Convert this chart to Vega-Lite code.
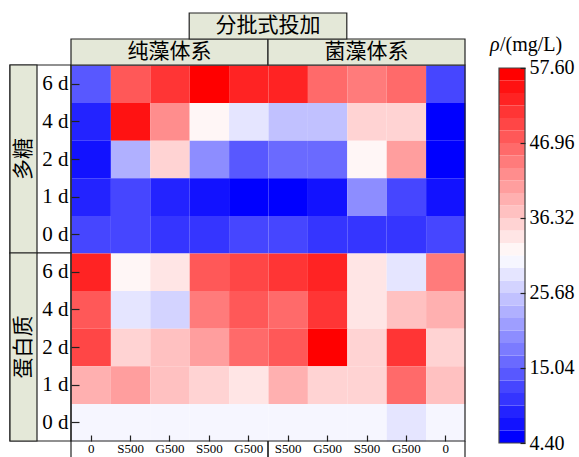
{
  "$schema": "https://vega.github.io/schema/vega-lite/v6.json",
  "width": 515,
  "height": 430,
  "autosize": {"type": "none"},
  "padding": {"left": 10, "top": 13, "right": 54, "bottom": 14},
  "background": "white",
  "config": {"view": {"stroke": null}, "text": {"font": "Liberation Serif, Noto Sans CJK SC", "color": "#000000"}},
  "datasets": {
    "cells": [
      {"c":1,"r":9,"v":14.15},{"c":2,"r":9,"v":47.85},{"c":3,"r":9,"v":51.39},{"c":4,"r":9,"v":56.71},{"c":5,"r":9,"v":53.17},{"c":6,"r":9,"v":53.17},{"c":7,"r":9,"v":46.07},{"c":8,"r":9,"v":44.30},{"c":9,"r":9,"v":46.07},{"c":10,"r":9,"v":12.38},
      {"c":1,"r":8,"v":8.83},{"c":2,"r":8,"v":54.94},{"c":3,"r":8,"v":42.53},{"c":4,"r":8,"v":31.89},{"c":5,"r":8,"v":28.34},{"c":6,"r":8,"v":24.79},{"c":7,"r":8,"v":24.79},{"c":8,"r":8,"v":35.43},{"c":9,"r":8,"v":35.43},{"c":10,"r":8,"v":5.29},
      {"c":1,"r":7,"v":7.06},{"c":2,"r":7,"v":23.02},{"c":3,"r":7,"v":35.43},{"c":4,"r":7,"v":19.47},{"c":5,"r":7,"v":14.15},{"c":6,"r":7,"v":15.93},{"c":7,"r":7,"v":15.93},{"c":8,"r":7,"v":31.89},{"c":9,"r":7,"v":40.75},{"c":10,"r":7,"v":5.29},
      {"c":1,"r":6,"v":8.83},{"c":2,"r":6,"v":12.38},{"c":3,"r":6,"v":8.83},{"c":4,"r":6,"v":7.06},{"c":5,"r":6,"v":5.29},{"c":6,"r":6,"v":5.29},{"c":7,"r":6,"v":7.06},{"c":8,"r":6,"v":19.47},{"c":9,"r":6,"v":12.38},{"c":10,"r":6,"v":7.06},
      {"c":1,"r":5,"v":12.38},{"c":2,"r":5,"v":12.38},{"c":3,"r":5,"v":10.61},{"c":4,"r":5,"v":10.61},{"c":5,"r":5,"v":12.38},{"c":6,"r":5,"v":12.38},{"c":7,"r":5,"v":10.61},{"c":8,"r":5,"v":10.61},{"c":9,"r":5,"v":10.61},{"c":10,"r":5,"v":12.38},
      {"c":1,"r":4,"v":53.17},{"c":2,"r":4,"v":31.89},{"c":3,"r":4,"v":33.66},{"c":4,"r":4,"v":47.85},{"c":5,"r":4,"v":49.62},{"c":6,"r":4,"v":51.39},{"c":7,"r":4,"v":53.17},{"c":8,"r":4,"v":33.66},{"c":9,"r":4,"v":28.34},{"c":10,"r":4,"v":44.30},
      {"c":1,"r":3,"v":47.85},{"c":2,"r":3,"v":28.34},{"c":3,"r":3,"v":26.57},{"c":4,"r":3,"v":44.30},{"c":5,"r":3,"v":47.85},{"c":6,"r":3,"v":46.07},{"c":7,"r":3,"v":51.39},{"c":8,"r":3,"v":33.66},{"c":9,"r":3,"v":37.21},{"c":10,"r":3,"v":38.98},
      {"c":1,"r":2,"v":49.62},{"c":2,"r":2,"v":35.43},{"c":3,"r":2,"v":37.21},{"c":4,"r":2,"v":40.75},{"c":5,"r":2,"v":46.07},{"c":6,"r":2,"v":47.85},{"c":7,"r":2,"v":56.71},{"c":8,"r":2,"v":35.43},{"c":9,"r":2,"v":51.39},{"c":10,"r":2,"v":35.43},
      {"c":1,"r":1,"v":38.98},{"c":2,"r":1,"v":40.75},{"c":3,"r":1,"v":37.21},{"c":4,"r":1,"v":35.43},{"c":5,"r":1,"v":33.66},{"c":6,"r":1,"v":38.98},{"c":7,"r":1,"v":35.43},{"c":8,"r":1,"v":35.43},{"c":9,"r":1,"v":46.07},{"c":10,"r":1,"v":37.21},
      {"c":1,"r":0,"v":30.11},{"c":2,"r":0,"v":30.11},{"c":3,"r":0,"v":30.11},{"c":4,"r":0,"v":30.11},{"c":5,"r":0,"v":30.11},{"c":6,"r":0,"v":30.11},{"c":7,"r":0,"v":30.11},{"c":8,"r":0,"v":30.11},{"c":9,"r":0,"v":28.34},{"c":10,"r":0,"v":30.11}
    ],
    "bands": [
      {"lo":4.4,"hi":6.174},{"lo":6.174,"hi":7.947},{"lo":7.947,"hi":9.721},{"lo":9.721,"hi":11.494},{"lo":11.494,"hi":13.267},
      {"lo":13.267,"hi":15.041},{"lo":15.041,"hi":16.814},{"lo":16.814,"hi":18.587},{"lo":18.587,"hi":20.361},{"lo":20.361,"hi":22.134},
      {"lo":22.134,"hi":23.907},{"lo":23.907,"hi":25.681},{"lo":25.681,"hi":27.454},{"lo":27.454,"hi":29.227},{"lo":29.227,"hi":31.001},
      {"lo":31.001,"hi":32.774},{"lo":32.774,"hi":34.547},{"lo":34.547,"hi":36.321},{"lo":36.321,"hi":38.094},{"lo":38.094,"hi":39.867},
      {"lo":39.867,"hi":41.641},{"lo":41.641,"hi":43.414},{"lo":43.414,"hi":45.187},{"lo":45.187,"hi":46.961},{"lo":46.961,"hi":48.734},
      {"lo":48.734,"hi":50.507},{"lo":50.507,"hi":52.281},{"lo":52.281,"hi":54.054},{"lo":54.054,"hi":55.827},{"lo":55.827,"hi":57.6}
    ],
    "tiers": [
      {"label":"纯藻体系","from":1,"to":6,"tier":1},
      {"label":"菌藻体系","from":6,"to":11,"tier":1},
      {"label":"分批式投加","from":4,"to":8,"tier":2}
    ],
    "side": [
      {"label":"多糖","from":5,"to":10},
      {"label":"蛋白质","from":0,"to":5}
    ]
  },
  "layer": [
    {
      "layer": [
        {
          "data": {"name": "cells"},
          "mark": {"type": "rect"},
          "encoding": {
            "x": {"field": "c", "type": "quantitative", "bin": {"binned": true, "step": 1},
                  "scale": {"domain": [-0.54822, 12.52284], "nice": false, "zero": false},
                  "axis": {"orient": "bottom", "offset": -2, "values": [1.5,2.5,3.5,4.5,5.5,6.5,7.5,8.5,9.5,10.5],
                           "labelExpr": "['0','S500','G500','S500','G500','S500','G500','S500','G500','0'][floor(datum.value)-1]",
                           "domain": false, "grid": false, "tickSize": -6, "tickColor": "#222222", "tickWidth": 1.2,
                           "labelFont": "Liberation Serif", "labelFontSize": 13, "labelColor": "#000000", "labelPadding": 7,
                           "labelFlush": false, "labelOverlap": false, "title": null, "zindex": 1}},
            "y": {"field": "r", "type": "quantitative", "bin": {"binned": true, "step": 1},
                  "scale": {"domain": [-0.05319, 11.38298], "nice": false, "zero": false},
                  "axis": {"orient": "left", "offset": -61, "values": [0.5,1.5,2.5,3.5,4.5,5.5,6.5,7.5,8.5,9.5],
                           "labelExpr": "['0 d','1 d','2 d','4 d','6 d'][floor(datum.value) % 5]",
                           "domain": false, "grid": false, "tickSize": -8, "tickColor": "#222222", "tickWidth": 1.2,
                           "labelFont": "Liberation Serif", "labelFontSize": 21, "labelColor": "#000000", "labelPadding": 11,
                           "labelFlush": false, "labelOverlap": false, "title": null, "zindex": 1}},
            "color": {"field": "v", "type": "quantitative",
                      "scale": {"type": "quantize", "domain": [4.4, 57.6], "zero": false, "nice": false,
                                "range": ["#0000ff","#1212ff","#2323ff","#3535ff","#4646ff","#5858ff","#6a6aff","#7b7bff","#8d8dff","#9e9eff","#b0b0ff","#c1c1ff","#d3d3ff","#e5e5ff","#f6f6ff","#fff6f6","#ffe5e5","#ffd3d3","#ffc1c1","#ffb0b0","#ff9e9e","#ff8d8d","#ff7b7b","#ff6a6a","#ff5858","#ff4646","#ff3535","#ff2323","#ff1212","#ff0000"]},
                      "legend": null}
          }
        },
        {
          "data": {"name": "side"},
          "mark": {"type": "rect", "fill": "white", "stroke": "#222222", "strokeWidth": 1.2},
          "encoding": {
            "x": {"datum": -0.54822, "type": "quantitative", "scale": {"domain": [-0.54822, 12.52284], "nice": false, "zero": false}},
            "x2": {"datum": 1},
            "y": {"field": "from", "type": "quantitative", "scale": {"domain": [-0.05319, 11.38298], "nice": false, "zero": false}},
            "y2": {"field": "to"}
          }
        },
        {
          "data": {"name": "side"},
          "mark": {"type": "rect", "fill": "#e4e8d8", "stroke": "#222222", "strokeWidth": 1.2},
          "encoding": {
            "x": {"datum": -0.54822, "type": "quantitative", "scale": {"domain": [-0.54822, 12.52284], "nice": false, "zero": false}},
            "x2": {"datum": 0.13706},
            "y": {"field": "from", "type": "quantitative", "scale": {"domain": [-0.05319, 11.38298], "nice": false, "zero": false}},
            "y2": {"field": "to"}
          }
        },
        {
          "data": {"name": "side"},
          "transform": [{"fold": ["from", "to"], "as": ["k", "val"]}],
          "mark": {"type": "text", "angle": 270, "fontSize": 21, "align": "center", "baseline": "middle"},
          "encoding": {
            "x": {"datum": -0.20558, "type": "quantitative", "scale": {"domain": [-0.54822, 12.52284], "nice": false, "zero": false}},
            "y": {"aggregate": "mean", "field": "val", "type": "quantitative", "scale": {"domain": [-0.05319, 11.38298], "nice": false, "zero": false}},
            "text": {"field": "label"}
          }
        },
        {
          "data": {"values": [{}]},
          "mark": {"type": "rect", "fill": null, "fillOpacity": 0, "stroke": "#222222", "strokeWidth": 1.2},
          "encoding": {
            "x": {"datum": 1, "type": "quantitative", "scale": {"domain": [-0.54822, 12.52284], "nice": false, "zero": false}},
            "x2": {"datum": 11},
            "y": {"datum": 0, "type": "quantitative", "scale": {"domain": [-0.05319, 11.38298], "nice": false, "zero": false}},
            "y2": {"datum": 10}
          }
        },
        {
          "data": {"name": "tiers"},
          "transform": [{"filter": "datum.tier == 1"}],
          "mark": {"type": "rect", "fill": "#e4e8d8", "stroke": "#222222", "strokeWidth": 1.2},
          "encoding": {
            "x": {"field": "from", "type": "quantitative", "scale": {"domain": [-0.54822, 12.52284], "nice": false, "zero": false}},
            "x2": {"field": "to"},
            "y": {"datum": 10, "type": "quantitative", "scale": {"domain": [-0.05319, 11.38298], "nice": false, "zero": false}},
            "y2": {"datum": 10.69149}
          }
        },
        {
          "data": {"name": "tiers"},
          "transform": [{"filter": "datum.tier == 2"}],
          "mark": {"type": "rect", "fill": "#e4e8d8", "stroke": "#222222", "strokeWidth": 1.2},
          "encoding": {
            "x": {"field": "from", "type": "quantitative", "scale": {"domain": [-0.54822, 12.52284], "nice": false, "zero": false}},
            "x2": {"field": "to"},
            "y": {"datum": 10.69149, "type": "quantitative", "scale": {"domain": [-0.05319, 11.38298], "nice": false, "zero": false}},
            "y2": {"datum": 11.38298}
          }
        },
        {
          "data": {"name": "tiers"},
          "transform": [{"filter": "datum.tier == 1"}, {"fold": ["from", "to"], "as": ["k", "val"]}],
          "mark": {"type": "text", "fontSize": 21, "align": "center", "baseline": "middle"},
          "encoding": {
            "x": {"aggregate": "mean", "field": "val", "type": "quantitative", "scale": {"domain": [-0.54822, 12.52284], "nice": false, "zero": false}},
            "y": {"datum": 10.34574, "type": "quantitative", "scale": {"domain": [-0.05319, 11.38298], "nice": false, "zero": false}},
            "text": {"field": "label"}
          }
        },
        {
          "data": {"name": "tiers"},
          "transform": [{"filter": "datum.tier == 2"}, {"fold": ["from", "to"], "as": ["k", "val"]}],
          "mark": {"type": "text", "fontSize": 21, "align": "center", "baseline": "middle"},
          "encoding": {
            "x": {"aggregate": "mean", "field": "val", "type": "quantitative", "scale": {"domain": [-0.54822, 12.52284], "nice": false, "zero": false}},
            "y": {"datum": 11.03723, "type": "quantitative", "scale": {"domain": [-0.05319, 11.38298], "nice": false, "zero": false}},
            "text": {"field": "label"}
          }
        },
        {
          "data": {"name": "tiers"},
          "transform": [{"filter": "datum.tier == 1"}, {"fold": ["from", "to"], "as": ["k", "val"]}],
          "mark": {"type": "rule", "stroke": "#222222", "strokeWidth": 1.2},
          "encoding": {
            "x": {"field": "val", "type": "quantitative", "scale": {"domain": [-0.54822, 12.52284], "nice": false, "zero": false}},
            "y": {"datum": 0, "type": "quantitative", "scale": {"domain": [-0.05319, 11.38298], "nice": false, "zero": false}},
            "y2": {"datum": -0.45}
          }
        }
      ]
    },
    {
      "layer": [
        {
          "data": {"name": "bands"},
          "mark": {"type": "rect"},
          "encoding": {
            "x": {"datum": 11.86294, "type": "quantitative", "scale": {"domain": [-0.54822, 12.52284], "nice": false, "zero": false}},
            "x2": {"datum": 12.52284},
            "y": {"field": "lo", "type": "quantitative",
                  "scale": {"domain": [4.4, 65.4026], "nice": false, "zero": false},
                  "axis": {"orient": "right", "values": [4.4, 15.04, 25.68, 36.32, 46.96, 57.6], "format": ".2f",
                           "domain": false, "grid": false, "tickSize": -5, "tickColor": "#222222", "tickWidth": 1.2,
                           "labelFont": "Liberation Serif", "labelFontSize": 20, "labelColor": "#000000", "labelPadding": 9,
                           "labelFlush": false, "labelOverlap": false, "title": null, "zindex": 1}},
            "y2": {"field": "hi"},
            "color": {"field": "lo", "type": "quantitative",
                      "scale": {"type": "quantize", "domain": [4.4, 57.6], "zero": false, "nice": false,
                                "range": ["#0000ff","#1212ff","#2323ff","#3535ff","#4646ff","#5858ff","#6a6aff","#7b7bff","#8d8dff","#9e9eff","#b0b0ff","#c1c1ff","#d3d3ff","#e5e5ff","#f6f6ff","#fff6f6","#ffe5e5","#ffd3d3","#ffc1c1","#ffb0b0","#ff9e9e","#ff8d8d","#ff7b7b","#ff6a6a","#ff5858","#ff4646","#ff3535","#ff2323","#ff1212","#ff0000"]},
                      "legend": null}
          }
        },
        {
          "data": {"values": [{}]},
          "mark": {"type": "rect", "fill": null, "fillOpacity": 0, "stroke": "#444444", "strokeWidth": 1.2},
          "encoding": {
            "x": {"datum": 11.86294, "type": "quantitative", "scale": {"domain": [-0.54822, 12.52284], "nice": false, "zero": false}},
            "x2": {"datum": 12.52284},
            "y": {"datum": 4.4, "type": "quantitative", "scale": {"domain": [4.4, 65.4026], "nice": false, "zero": false}},
            "y2": {"datum": 57.6}
          }
        },
        {
          "data": {"values": [{"t": "ρ"}]},
          "mark": {"type": "text", "fontSize": 20, "fontStyle": "italic", "font": "Liberation Serif", "align": "left", "baseline": "alphabetic"},
          "encoding": {
            "x": {"datum": 11.63452, "type": "quantitative", "scale": {"domain": [-0.54822, 12.52284], "nice": false, "zero": false}},
            "y": {"datum": 59.941, "type": "quantitative", "scale": {"domain": [4.4, 65.4026], "nice": false, "zero": false}},
            "text": {"field": "t"}
          }
        },
        {
          "data": {"values": [{"t": "/(mg/L)"}]},
          "mark": {"type": "text", "fontSize": 20, "font": "Liberation Serif", "align": "left", "baseline": "alphabetic"},
          "encoding": {
            "x": {"datum": 11.8883, "type": "quantitative", "scale": {"domain": [-0.54822, 12.52284], "nice": false, "zero": false}},
            "y": {"datum": 59.941, "type": "quantitative", "scale": {"domain": [4.4, 65.4026], "nice": false, "zero": false}},
            "text": {"field": "t"}
          }
        }
      ]
    }
  ],
  "resolve": {"scale": {"y": "independent"}, "axis": {"y": "independent"}}
}
